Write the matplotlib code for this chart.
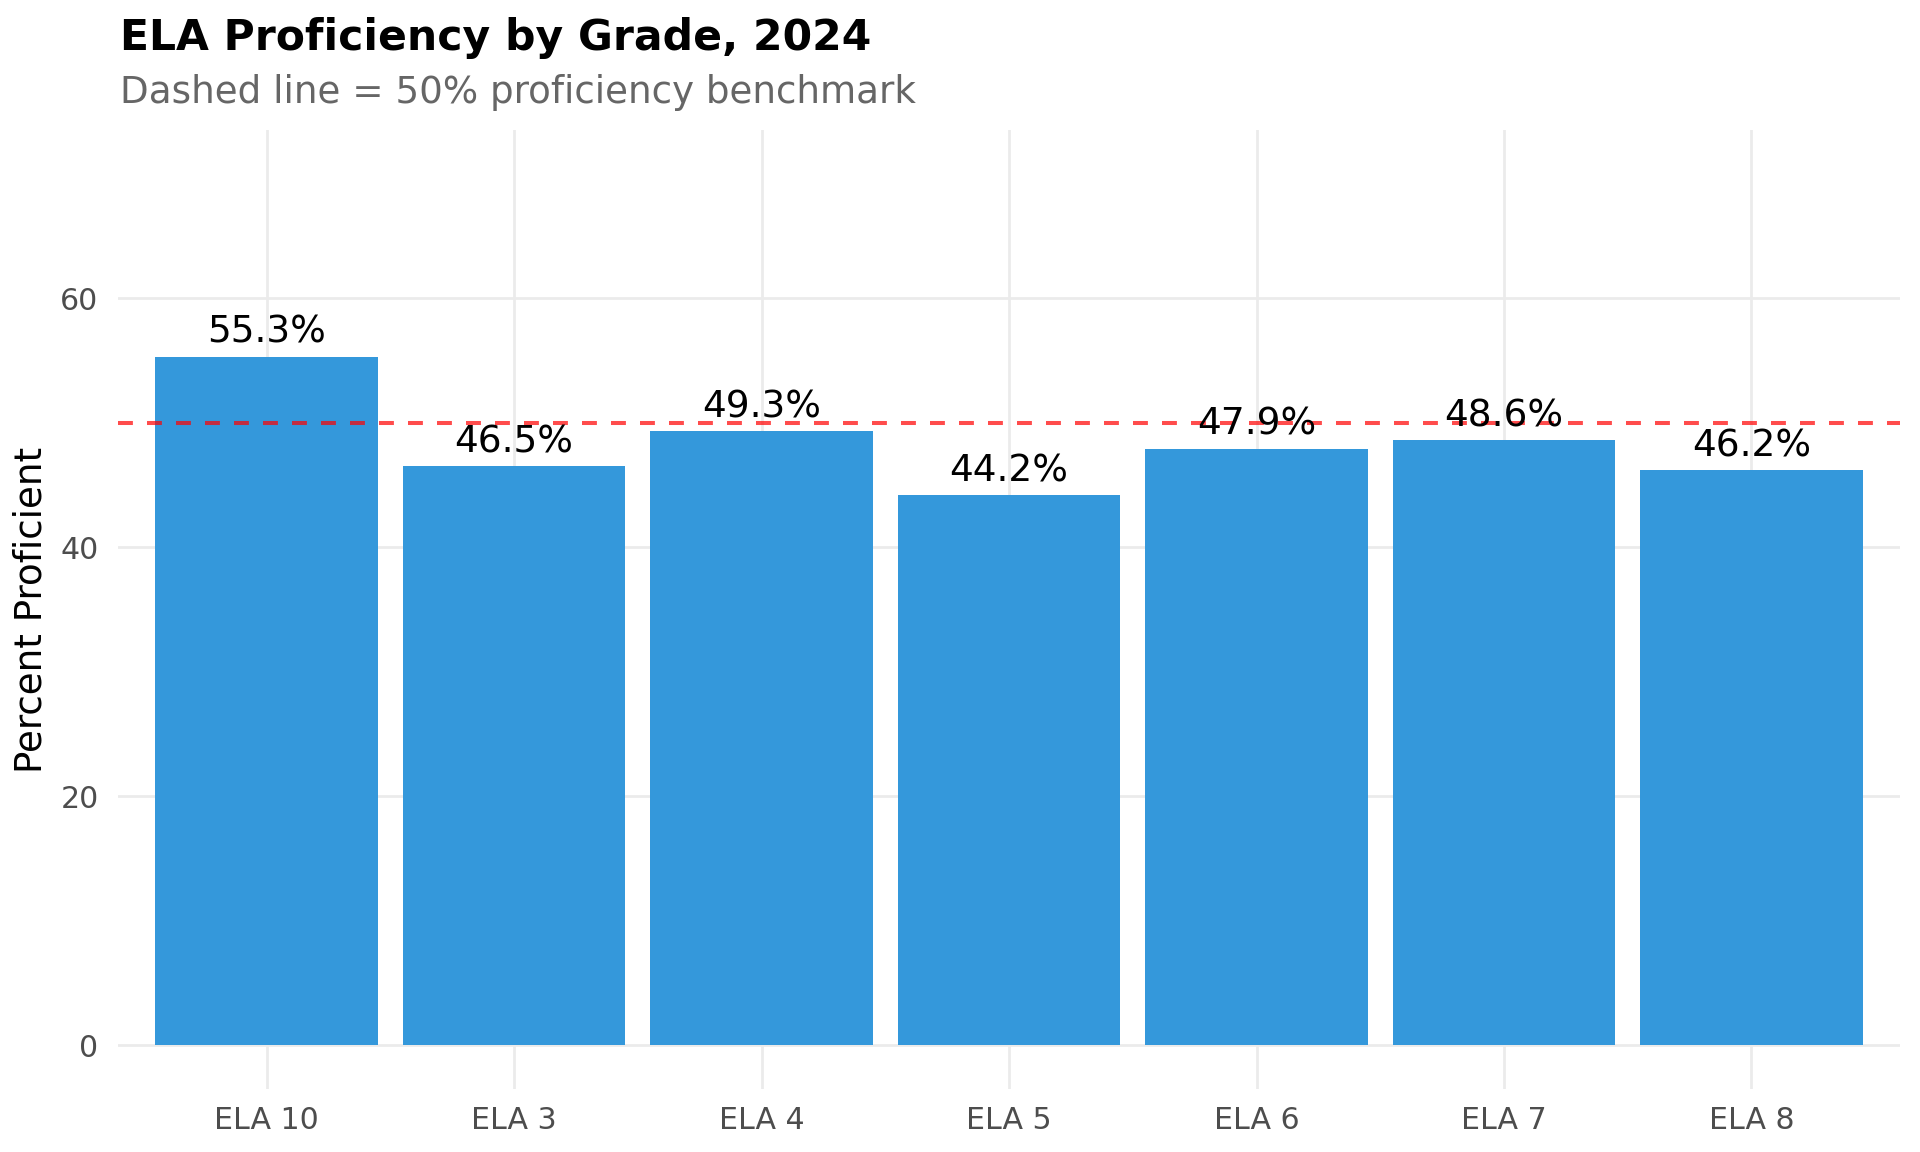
import numpy as np
import matplotlib
matplotlib.use("Agg")
import matplotlib.pyplot as plt

grades = ["ELA 10", "ELA 3", "ELA 4", "ELA 5", "ELA 6", "ELA 7", "ELA 8"]
pct_proficient = [55.3, 46.5, 49.3, 44.2, 47.9, 48.6, 46.2]
benchmark = 50
yticks = [0, 20, 40, 60]

bar_color = "#3498db"
grid_color = "#ebebeb"

fig = plt.figure(figsize=(9.6, 5.76), dpi=200)
ax = fig.add_axes([118 / 1920, 1 - 1089 / 1152, 1782 / 1920, (1089 - 130) / 1152])

x = np.arange(len(grades))
bars = ax.bar(x, pct_proficient, width=0.9, color=bar_color, zorder=2)
ax.axhline(benchmark, color="red", alpha=0.7, lw=1.45, dashes=(3.7, 3.5), zorder=3)

# value labels above each bar
for xi, v in zip(x, pct_proficient):
    ax.annotate("%.1f%%" % v, (xi, v), xytext=(0, 5), textcoords="offset points",
                ha="center", va="baseline", fontsize=13.5, color="black", zorder=4)

ax.set_xlim(-0.6, len(grades) - 0.4)
ax.set_ylim(-3.5, 73.5)
ax.set_xticks(x)
ax.set_xticklabels(grades)
ax.set_yticks(yticks)
ax.tick_params(axis="both", length=0, labelsize=10.8, labelcolor="#4d4d4d")
ax.tick_params(axis="x", pad=6)
ax.tick_params(axis="y", pad=7)

ax.grid(True, color=grid_color, lw=1.0, zorder=0)
ax.set_axisbelow(True)
for s in ax.spines.values():
    s.set_visible(False)

fig.text(31 / 1920, 1 - 609.5 / 1152, "Percent Proficient", rotation=90,
         ha="center", va="center", fontsize=13.4)
fig.text(120 / 1920, 1 - 50 / 1152, "ELA Proficiency by Grade, 2024",
         fontsize=15.3, fontweight="bold", ha="left", va="baseline")
fig.text(120 / 1920, 1 - 103 / 1152, "Dashed line = 50% proficiency benchmark",
         fontsize=13.4, color="#666666", ha="left", va="baseline")

fig.savefig("out.png", dpi=200)
